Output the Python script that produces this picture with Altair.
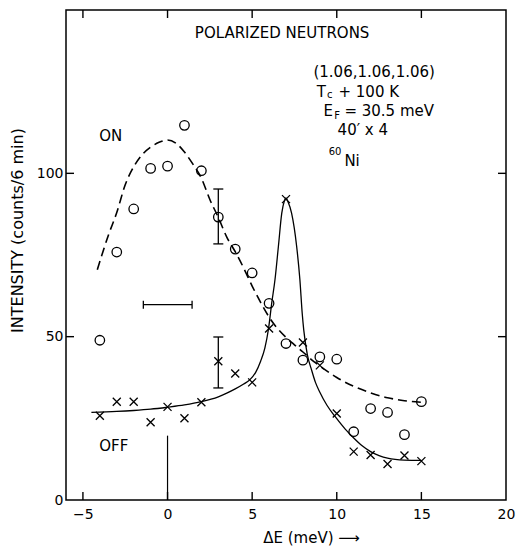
import altair as alt
import pandas as pd

# ---------------- data ----------------
# "ON" measurements (open circles)
on_x = [-4, -3, -2, -1, 0, 1, 2, 3, 4, 5, 6, 7, 8, 9, 10, 11, 12, 13, 14, 15]
on_y = [48.9, 75.9, 89.1, 101.5, 102.2, 114.7, 100.8, 86.6, 76.8, 69.5,
        60.2, 47.9, 42.8, 43.8, 43.1, 20.9, 28.0, 26.8, 20.0, 30.1]

# "OFF" measurements (crosses)
off_x = [-4, -3, -2, -1, 0, 1, 2, 3, 4, 5, 6, 7, 8, 9, 10, 11, 12, 13, 14, 15]
off_y = [25.8, 30.1, 30.1, 23.8, 28.5, 25.0, 29.9, 42.5, 38.7, 36.0,
         52.5, 92.1, 48.2, 41.2, 26.5, 14.8, 13.8, 11.0, 13.6, 11.9]

# dashed fit curve (ON)
on_fit_x = [-4.15, -3.5, -3, -2.5, -2, -1.5, -1, -0.5, 0, 0.5, 1, 1.5, 2, 2.5,
            3, 3.5, 4, 4.5, 5, 5.5, 6, 6.5, 7, 7.5, 8, 8.5, 9, 10, 11, 12, 13, 14, 15]
on_fit_y = [70.5, 81, 88, 96.5, 102, 105.7, 108, 109.5, 110.2, 109.2, 106.5, 102.8,
            98.5, 92, 86.5, 80.5, 76, 71, 65.5, 60.5, 56, 52.5, 49.8, 47.5, 45.3,
            43, 41, 37.5, 34.8, 32.8, 31.3, 30.4, 29.9]

# solid fit curve (OFF)
off_fit_x = [-4.5, -3, -2, -1, 0, 1, 2, 3, 3.5, 4, 4.5, 4.84, 5.2, 5.5, 5.75, 5.96,
             6.16, 6.35, 6.55, 6.75, 6.9, 7.0, 7.1, 7.33, 7.63, 7.82, 7.96, 8.05,
             8.26, 8.5, 8.74, 9.0, 9.42, 9.91, 10.5, 11, 11.5, 12, 12.5, 13, 14, 15]
off_fit_y = [26.8, 27.1, 27.4, 27.8, 28.4, 29.1, 30.1, 31.6, 32.7, 34, 35.5, 36.7,
             39, 42.5, 46.5, 52.2, 60.4, 67.5, 77.6, 87.8, 91.5, 92.5, 91.5, 87.8,
             77.6, 67.5, 57, 52, 44.5, 40, 36, 33, 29, 25.5, 21.7, 19, 16.6, 14.8,
             13.6, 12.8, 12.2, 12.1]

# error bars
err_x = [3, 3]
err_lo = [78.4, 34.3]
err_hi = [95.2, 49.9]

# resolution bar and energy marker
res_x1 = [-1.43]
res_x2 = [1.45]
res_y = [59.8]
mark_x = [0]
mark_y1 = [0]
mark_y2 = [19.7]

# axes
x_tick_vals = [-5, 0, 5, 10, 15]
x_label_vals = [-5, 0, 5, 10, 15, 20]
y_tick_vals = [50, 100]
y_label_vals = [0, 50, 100]
x_domain = [-6, 20]
y_domain = [0, 150]

FONT = "DejaVu Sans"

xs = alt.Scale(domain=x_domain, nice=False, zero=False)
ys = alt.Scale(domain=y_domain, nice=False, zero=False)

on_df = pd.DataFrame({"x": on_x, "y": on_y})
off_df = pd.DataFrame({"x": off_x, "y": off_y})
on_fit = pd.DataFrame({"x": on_fit_x, "y": on_fit_y})
off_fit = pd.DataFrame({"x": off_fit_x, "y": off_fit_y})
err_df = pd.DataFrame({"x": err_x, "y": err_lo, "hi": err_hi})
err_caps = pd.DataFrame({"x": err_x + err_x, "y": err_lo + err_hi})
res_df = pd.DataFrame({"x": res_x1, "x2": res_x2, "y": res_y})
res_caps = pd.DataFrame({"x": res_x1 + res_x2, "y": res_y + res_y})
mark_df = pd.DataFrame({"x": mark_x, "y": mark_y1, "y2": mark_y2})

x_axis = alt.Axis(values=x_label_vals, tickSize=0, domain=False, grid=False,
                  labelFont=FONT, labelFontSize=14, labelColor="black",
                  labelPadding=7, labelFlush=False, labelOverlap=False, format="d",
                  title="ΔE (meV) ⟶", titleFont=FONT, titleFontSize=15,
                  titleFontWeight="normal", titleColor="black",
                  titleX=245, titleY=37, titleAlign="center", titleBaseline="middle")
y_axis = alt.Axis(values=y_label_vals, tickSize=0, domain=False, grid=False,
                  labelFont=FONT, labelFontSize=14, labelColor="black",
                  labelPadding=3, labelFlush=False, labelOverlap=False, format="d",
                  title="INTENSITY (counts/6 min)", titleFont=FONT, titleFontSize=16,
                  titleFontWeight="normal", titleColor="black",
                  titleX=-49, titleY=220, titleAlign="center", titleBaseline="middle")


def enc(ch):
    return ch.encode(
        x=alt.X("x:Q", scale=xs, axis=x_axis),
        y=alt.Y("y:Q", scale=ys, axis=y_axis),
    )


circles = enc(alt.Chart(on_df).mark_point(shape="circle", filled=False, color="black",
                                          size=90, strokeWidth=1.3, opacity=1))

cross_path = "M-1,-1L1,1M-1,1L1,-1"
crosses = enc(alt.Chart(off_df).mark_point(shape=cross_path, filled=False, color="black",
                                           size=64, strokeWidth=1.3, opacity=1))

dashed = enc(alt.Chart(on_fit).mark_line(color="black", strokeWidth=1.6,
                                         strokeDash=[9, 5], interpolate="monotone"))

solid = enc(alt.Chart(off_fit).mark_line(color="black", strokeWidth=1.3,
                                         interpolate="monotone"))

err_rules = enc(alt.Chart(err_df).mark_rule(color="black", strokeWidth=1.3)).encode(y2="hi:Q")
err_cap_marks = enc(alt.Chart(err_caps).mark_tick(orient="horizontal", color="black",
                                                  size=10, thickness=1.3, opacity=1))

res_rule = enc(alt.Chart(res_df).mark_rule(color="black", strokeWidth=1.3)).encode(x2="x2:Q")
res_cap_marks = enc(alt.Chart(res_caps).mark_tick(orient="vertical", color="black",
                                                  size=8, thickness=1.3, opacity=1))

marker = enc(alt.Chart(mark_df).mark_rule(color="black", strokeWidth=1.2)).encode(y2="y2:Q")

# inward frame ticks (clipped half of a centred tick)
xt_df = pd.DataFrame({"x": x_tick_vals * 2,
                      "y": [y_domain[0]] * len(x_tick_vals) + [y_domain[1]] * len(x_tick_vals)})
yt_df = pd.DataFrame({"x": [x_domain[0]] * len(y_tick_vals) + [x_domain[1]] * len(y_tick_vals),
                      "y": y_tick_vals * 2})
xticks_layer = enc(alt.Chart(xt_df).mark_tick(orient="vertical", color="black", size=16,
                                              thickness=1.4, clip=True, opacity=1))
yticks_layer = enc(alt.Chart(yt_df).mark_tick(orient="horizontal", color="black", size=16,
                                              thickness=1.4, clip=True, opacity=1))

# annotations
center_txt = pd.DataFrame({
    "t": ["POLARIZED NEUTRONS", "(1.06,1.06,1.06)", "40′ x 4", "ON", "OFF"],
    "x": [6.77, 12.21, 11.54, -3.36, -3.18],
    "y": [143.1, 130.9, 113.2, 111.4, 16.6],
    "s": [15, 15, 15, 15, 15],
})
left_txt = pd.DataFrame({
    "t": ["T", "c", "+ 100 K", "E", "F", "= 30.5 meV", "60", "Ni"],
    "x": [8.82, 9.42, 10.1, 9.22, 9.85, 10.45, 9.52, 10.45],
    "y": [124.8, 123.9, 124.8, 119.1, 117.6, 119.1, 106.6, 103.7],
    "s": [15, 10, 15, 15, 10, 15, 10, 15],
})

text_c = enc(alt.Chart(center_txt).mark_text(font=FONT, color="black", align="center",
                                             baseline="middle")).encode(
    text="t:N",
    size=alt.Size("s:Q", scale=None, legend=None),
)
text_l = enc(alt.Chart(left_txt).mark_text(font=FONT, color="black", align="left",
                                           baseline="middle")).encode(
    text="t:N",
    size=alt.Size("s:Q", scale=None, legend=None),
)

chart = alt.layer(
    circles, crosses, dashed, solid, err_rules, err_cap_marks, res_rule,
    res_cap_marks, marker, xticks_layer, yticks_layer, text_c, text_l,
).properties(
    width=440, height=490,
    autosize=alt.AutoSizeParams(type="none"),
    padding={"left": 58, "top": 2, "right": 10, "bottom": 46},
    background="white",
).configure_view(stroke="black", strokeWidth=1.5)

chart.save("out.html", embed_options={"renderer": "svg", "actions": False})
